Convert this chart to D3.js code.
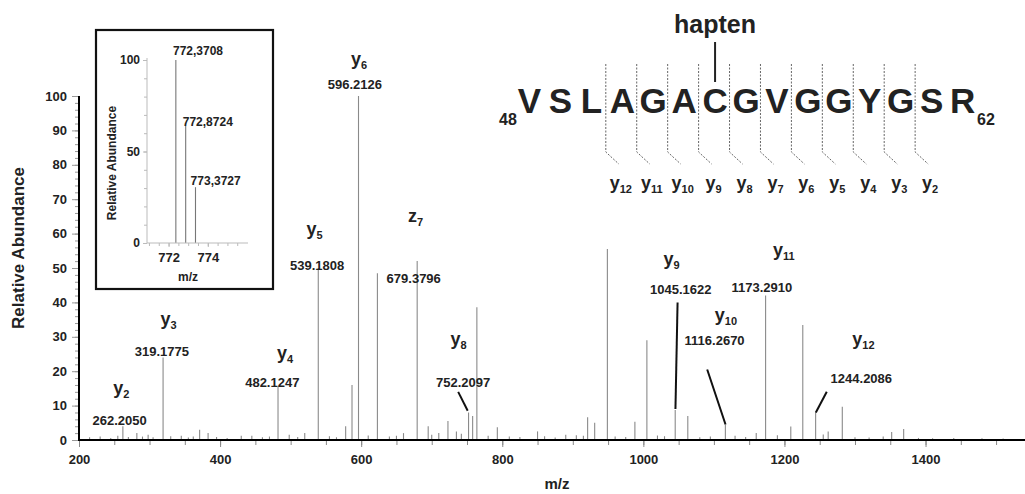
<!DOCTYPE html>
<html>
<head>
<meta charset="utf-8">
<script src="https://cdn.jsdelivr.net/npm/d3@7"></script>
<style>
  body { margin: 0; background: #fff; }
  svg { font-family: "Liberation Sans", Arial, sans-serif; font-weight: bold; }
</style>
</head>
<body>
<div id="chart"></div>
<script>
// spectrum peaks (m/z, relative abundance)
var peakMz  = [262.2, 282, 298, 319.18, 345, 371, 383, 430, 482.12, 498, 520, 539.18, 578, 587, 596.21, 623,
               660, 679.38, 695, 710, 723, 735, 752.21, 758, 764, 793, 850, 890, 921, 931, 949, 988,
               1005, 1045.16, 1063, 1116.27, 1160, 1173.29, 1209, 1226, 1244.21, 1262, 1282, 1352, 1369];
var peakInt = [4, 2, 1.5, 24, 1.2, 3, 2, 1.2, 15.5, 1.5, 2, 50, 4, 16, 100, 48.5,
               2, 52, 4, 2, 5.5, 2.5, 8, 7, 38.6, 3.7, 2.5, 1.5, 6.6, 5, 55.5, 5.3,
               29, 8.7, 7, 4.4, 2, 42, 3.9, 33.4, 8.2, 2.5, 9.7, 2.3, 3.2];
// low-level noise peaks
var noiseMz  = [215, 230, 245, 255, 270, 290, 305, 330, 355, 362, 395, 410, 445, 460, 470, 510, 555, 565, 610, 640,
                650, 700, 742, 780, 810, 825, 860, 875, 905, 915, 960, 975, 1020, 1030, 1080, 1095, 1130, 1145,
                1190, 1255, 1300, 1320, 1340, 1390, 1410, 1440, 1480, 1510];
var noiseInt = [0.8, 1, 0.6, 1.2, 0.9, 1, 0.8, 1.1, 0.7, 1, 0.9, 0.6, 1.2, 0.8, 1, 0.9, 1.1, 0.8, 1.3, 1,
                1.2, 1.5, 1.8, 1.2, 1, 0.9, 1.1, 0.7, 1.4, 1.2, 1, 0.9, 1.3, 1.1, 0.8, 1, 1.2, 0.9,
                1.4, 1.6, 0.8, 0.7, 1, 0.6, 0.5, 0.6, 0.5, 0.4];

// annotated ions
var ionName = ["y", "y", "y", "y", "y", "z", "y", "y", "y", "y", "y"];
var ionSub  = ["2", "3", "4", "5", "6", "7", "8", "9", "10", "11", "12"];
var ionMz   = ["262.2050", "319.1775", "482.1247", "539.1808", "596.2126", "679.3796",
               "752.2097", "1045.1622", "1116.2670", "1173.2910", "1244.2086"];

// inset isotope cluster
var isoMz  = [772.3708, 772.8724, 773.3727];
var isoInt = [100, 64, 30.5];
var isoText = ["772,3708", "772,8724", "773,3727"];

// peptide
var residues = ["V", "S", "L", "A", "G", "A", "C", "G", "V", "G", "G", "Y", "G", "S", "R"];
var cleavageSub = ["12", "11", "10", "9", "8", "7", "6", "5", "4", "3", "2"];

var svgWidth = 1025, svgHeight = 494;
var svg = d3.select("#chart").append("svg")
  .attr("width", svgWidth).attr("height", svgHeight);

var x = d3.scaleLinear().domain([200, 1541]).range([79, 1025]);
var y = d3.scaleLinear().domain([0, 100]).range([440, 96]);

// peaks
var peaks = peakMz.map(function(m, i) { return { mz: m, v: peakInt[i] }; })
  .concat(noiseMz.map(function(m, i) { return { mz: m, v: noiseInt[i] }; }));
svg.append("g").selectAll("line").data(peaks).enter().append("line")
  .attr("x1", d => x(d.mz)).attr("x2", d => x(d.mz))
  .attr("y1", y(0)).attr("y2", d => y(d.v))
  .attr("stroke", "#8a8a8a").attr("stroke-width", 1.1);

function styleLabels(sel, size) {
  sel.attr("font-size", size).attr("font-family", "Liberation Sans, Arial")
    .attr("font-weight", "bold").attr("fill", "#222");
}

// y axis
var yAxisMinor = d3.axisLeft(y).tickValues(d3.range(0, 101, 2)).tickSize(4).tickFormat("");
var yAxis = d3.axisLeft(y).tickValues(d3.range(0, 101, 10)).tickSize(7).tickPadding(5).tickFormat(d3.format("d"));
var gy = svg.append("g").attr("transform", "translate(79,0)");
gy.append("g").call(yAxisMinor).call(g => g.select(".domain").remove())
  .selectAll("line").attr("stroke", "#999");
gy.append("g").call(yAxis).call(g => g.select(".domain").remove())
  .call(g => g.selectAll("line").attr("stroke", "#999"))
  .selectAll("text").call(styleLabels, 13);
gy.append("line").attr("x1", 0).attr("x2", 0).attr("y1", y(100)).attr("y2", y(0) + 1)
  .attr("stroke", "#000").attr("stroke-width", 2);

// x axis
var xAxisMinor = d3.axisBottom(x).tickValues(d3.range(250, 1541, 50)).tickSize(5).tickFormat("");
var xAxis = d3.axisBottom(x).tickValues(d3.range(200, 1541, 200)).tickSize(7).tickPadding(8).tickFormat(d3.format("d"));
var gx = svg.append("g").attr("transform", "translate(0," + y(0) + ")");
gx.append("g").call(xAxisMinor).call(g => g.select(".domain").remove())
  .selectAll("line").attr("stroke", "#888");
gx.append("g").call(xAxis).call(g => g.select(".domain").remove())
  .call(g => g.selectAll("line").attr("stroke", "#888"))
  .selectAll("text").call(styleLabels, 13);
gx.append("line").attr("x1", 79).attr("x2", 1025).attr("y1", 0).attr("y2", 0)
  .attr("stroke", "#000").attr("stroke-width", 2.2);

// axis titles
svg.append("text").attr("transform", "translate(24,248) rotate(-90)")
  .attr("text-anchor", "middle").attr("font-size", 17).attr("fill", "#222").text("Relative Abundance");
svg.append("text").attr("x", 557).attr("y", 489).attr("text-anchor", "middle")
  .attr("font-size", 15).attr("fill", "#222").text("m/z");

// ion labels: [mz, abundance] of name and of value, leader line ends
var ionNamePos = [[260, 13.5], [327, 33.5], [492, 23.5], [534, 59.5], [597, 109], [677, 63.5], [738, 27.5], [1040, 50.8], [1117, 34.5], [1199, 53.5], [1312, 27.5]];
var ionValPos  = [[257.5, 4.5], [317.5, 24.5], [474, 15.5], [537.5, 49.5], [591, 102], [674.5, 45.5], [744.5, 15.5], [1053, 42.5], [1101, 27.5], [1168, 43], [1309, 16.5]];
var leaders = [null, null, null, null, null, null, [737.5, 14, 751, 8.5], [1048.5, 40, 1045.5, 9],
               [1090.5, 20.5, 1116.5, 4.5], null, [1260, 14, 1244.5, 8]];

var lab = svg.append("g").attr("fill", "#222");
ionName.forEach(function(n, i) {
  var t = lab.append("text").attr("x", x(ionNamePos[i][0])).attr("y", y(ionNamePos[i][1]))
    .attr("text-anchor", "middle").attr("font-size", 18);
  t.append("tspan").text(n);
  t.append("tspan").attr("font-size", 11).attr("dy", 4).text(ionSub[i]);
  lab.append("text").attr("x", x(ionValPos[i][0])).attr("y", y(ionValPos[i][1]))
    .attr("text-anchor", "middle").attr("font-size", 13).text(ionMz[i]);
  if (leaders[i]) {
    var L = leaders[i];
    lab.append("line").attr("x1", x(L[0])).attr("y1", y(L[1])).attr("x2", x(L[2])).attr("y2", y(L[3]))
      .attr("stroke", "#111").attr("stroke-width", 2);
  }
});

// inset
var inset = svg.append("g");
inset.append("rect").attr("x", 96).attr("y", 30).attr("width", 177).attr("height", 259)
  .attr("fill", "#fff").attr("stroke", "#111").attr("stroke-width", 2.2);
var ix = d3.scaleLinear().domain([770.9, 776.05]).range([147, 248]);
var iy = d3.scaleLinear().domain([0, 100]).range([243, 60]);
inset.append("g").selectAll("line").data(isoMz).enter().append("line")
  .attr("x1", d => ix(d)).attr("x2", d => ix(d))
  .attr("y1", iy(0)).attr("y2", (d, i) => iy(isoInt[i]))
  .attr("stroke", "#777").attr("stroke-width", 1.1);
var iyMinor = d3.axisLeft(iy).tickValues(d3.range(0, 101, 10)).tickSize(3).tickFormat("");
var iyAxis = d3.axisLeft(iy).tickValues([0, 50, 100]).tickSize(4).tickPadding(3).tickFormat(d3.format("d"));
var giy = inset.append("g").attr("transform", "translate(147,0)");
giy.append("g").call(iyMinor).call(g => g.select(".domain").remove()).selectAll("line").attr("stroke", "#bbb");
giy.append("g").call(iyAxis).call(g => g.select(".domain").remove())
  .call(g => g.selectAll("line").attr("stroke", "#bbb"))
  .selectAll("text").call(styleLabels, 12);
giy.append("line").attr("y1", iy(0)).attr("y2", 58).attr("stroke", "#bbb");
var ixMinor = d3.axisBottom(ix).tickValues(d3.range(771, 776, 0.5)).tickSize(3).tickFormat("");
var ixAxis = d3.axisBottom(ix).tickValues([772, 774]).tickSize(4).tickPadding(6).tickFormat(d3.format("d"));
var gix = inset.append("g").attr("transform", "translate(0," + iy(0) + ")");
gix.append("g").call(ixMinor).call(g => g.select(".domain").remove()).selectAll("line").attr("stroke", "#bbb");
gix.append("g").call(ixAxis).call(g => g.select(".domain").remove())
  .call(g => g.selectAll("line").attr("stroke", "#bbb"))
  .selectAll("text").call(styleLabels, 13);
gix.append("line").attr("x1", 147).attr("x2", 248).attr("stroke", "#bbb");
inset.append("text").attr("transform", "translate(116,163) rotate(-90)")
  .attr("text-anchor", "middle").attr("font-size", 12).attr("fill", "#222").text("Relative Abundance");
inset.append("text").attr("x", 188).attr("y", 281).attr("text-anchor", "middle")
  .attr("font-size", 12).attr("fill", "#222").text("m/z");
var isoLabelPos = [[773.5, 102.5], [774, 64], [774.4, 31.5]];
inset.append("g").selectAll("text").data(isoText).enter().append("text")
  .attr("x", (d, i) => ix(isoLabelPos[i][0])).attr("y", (d, i) => iy(isoLabelPos[i][1]))
  .attr("text-anchor", "middle").attr("font-size", 12).attr("fill", "#222").text(d => d);

// peptide sequence
var px = d3.scaleBand().domain(d3.range(residues.length)).range([514, 978]);
var seqBase = 113;
var pep = svg.append("g").attr("fill", "#222");
pep.selectAll("text.res").data(residues).enter().append("text").attr("class", "res")
  .attr("x", (d, i) => px(i) + px.bandwidth() / 2).attr("y", seqBase)
  .attr("text-anchor", "middle").attr("font-size", 35).text(d => d);
pep.append("text").attr("x", px(0) - 6).attr("y", seqBase + 12).attr("text-anchor", "middle")
  .attr("font-size", 16).text("48");
pep.append("text").attr("x", px(14) + px.bandwidth() + 8).attr("y", seqBase + 12).attr("text-anchor", "middle")
  .attr("font-size", 16).text("62");
// cleavage marks between residues
cleavageSub.forEach(function(s, k) {
  var cx = px(k + 3) - 1;
  pep.append("path").attr("d", "M" + cx + ",64 V152 l13,12")
    .attr("fill", "none").attr("stroke", "#666").attr("stroke-width", 1).attr("stroke-dasharray", "2,1.5");
  var t = pep.append("text").attr("x", cx + 15).attr("y", 189).attr("text-anchor", "middle").attr("font-size", 18);
  t.append("tspan").text("y");
  t.append("tspan").attr("font-size", 11).attr("dy", 4).text(s);
});
var cX = px(6) + px.bandwidth() / 2;
pep.append("line").attr("x1", cX).attr("x2", cX).attr("y1", 42).attr("y2", 82)
  .attr("stroke", "#222").attr("stroke-width", 2);
pep.append("text").attr("x", cX).attr("y", 33).attr("text-anchor", "middle")
  .attr("font-size", 25).text("hapten");
</script>
</body>
</html>
